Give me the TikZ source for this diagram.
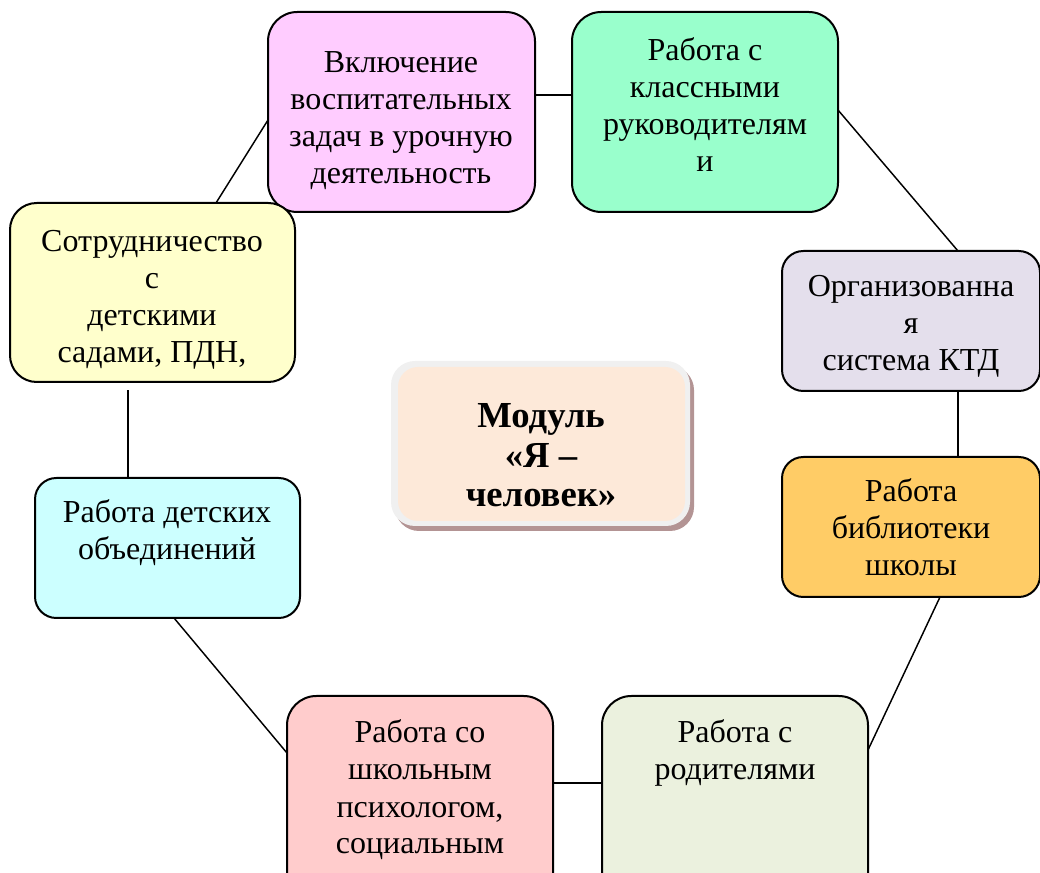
\documentclass[tikz,border=0pt]{standalone}
\usepackage{fontspec}
\setmainfont{Liberation Serif}
\usetikzlibrary{calc}
\definecolor{cPink}{HTML}{FFCCFF}
\definecolor{cGreen}{HTML}{99FFCC}
\definecolor{cLav}{HTML}{E4DFEC}
\definecolor{cOrange}{HTML}{FFCC66}
\definecolor{cGLight}{HTML}{EBF1DE}
\definecolor{cPLight}{HTML}{FFCCCC}
\definecolor{cCyan}{HTML}{CCFFFF}
\definecolor{cYellow}{HTML}{FFFFCC}
\definecolor{cPeach}{HTML}{FDE9D9}
\definecolor{cFrame}{HTML}{F0F0F0}
\definecolor{cShadow}{HTML}{B39494}
\newcommand\boxlines[1]{\begin{tabular}[t]{@{}c@{}}#1\end{tabular}}
\begin{document}
\begin{tikzpicture}[x=0.75pt,y=-0.75pt,
  box/.style={draw=black,line width=1.5pt,rounded corners=22pt,anchor=north west,inner sep=0pt,outer sep=0pt},
  sbox/.style={box,rounded corners=16pt},
  txt/.style={inner sep=0pt,anchor=base,font=\fontsize{24pt}{27.75pt}\selectfont},
  btxt/.style={inner sep=0pt,anchor=base,font=\fontsize{27.5pt}{29.5pt}\selectfont\bfseries},
  link/.style={draw=black,line width=1.1pt}]
\useasboundingbox (0,0) rectangle (1040,873);
\clip (0,0) rectangle (1040,873);
% boxes
\node[box,fill=cPink,minimum width=200.25pt,minimum height=150pt] (pink) at (268,12) {};
\node[box,fill=cGreen,minimum width=199.5pt,minimum height=150pt] (green) at (572,12) {};
\node[sbox,fill=cLav,minimum width=193.5pt,minimum height=105pt] (lav) at (782,251) {};
\node[sbox,fill=cOrange,minimum width=193.5pt,minimum height=105pt] (orange) at (782,457) {};
\node[box,fill=cGLight,minimum width=199.5pt,minimum height=157.5pt] (glight) at (602,696) {};
\node[box,fill=cPLight,minimum width=199.5pt,minimum height=157.5pt] (plight) at (287,696) {};
\node[sbox,fill=cCyan,minimum width=198.75pt,minimum height=105pt] (cyan) at (35,478) {};
\node[box,rounded corners=20pt,fill=cYellow,minimum width=213.75pt,minimum height=134.25pt] (ysad) at (10,203) {};
% centre
\node[anchor=north west,inner sep=0pt,outer sep=0pt,rounded corners=18pt,fill=cShadow,minimum width=224.25pt,minimum height=123.75pt] (cshadow) at (395,366) {};
\node[anchor=north west,inner sep=0pt,outer sep=0pt,rounded corners=18pt,fill=cFrame,minimum width=224.25pt,minimum height=123.75pt] (cframe) at (391,361) {};
\node[anchor=north west,inner sep=0pt,outer sep=0pt,rounded corners=15pt,fill=cPeach,minimum width=215.25pt,minimum height=115.5pt] (center) at (398,367) {};
% texts
\node[txt] (tpink) at (401,73) {\boxlines{Включение\\воспитательных\\задач в урочную\\деятельность}};
\node[txt] (tgreen) at (705,61) {\boxlines{Работа с\\классными\\руководителям\\и}};
\node[txt] (tlav) at (911,297) {\boxlines{Организованна\\я\\система КТД}};
\node[txt] (torange) at (911,502) {\boxlines{Работа\\библиотеки\\школы}};
\node[txt] (tysad) at (152,252) {\boxlines{Сотрудничество\\с\\детскими\\садами, ПДН,}};
\node[txt] (tcyan) at (167,523) {\boxlines{Работа детских\\объединений}};
\node[txt] (tplight) at (420,743) {\boxlines{Работа со\\школьным\\психологом,\\социальным}};
\node[txt] (tglight) at (735,743) {\boxlines{Работа с\\родителями}};
\node[btxt] (tcenter) at (541,428) {\boxlines{Модуль\\«Я –\\человек»}};
% connectors
\coordinate (yend) at (128,390);
\draw[link] (pink.west |- 0,120) -- (ysad.north -| 216,0);
\draw[link] (pink.east |- 0,95) -- (green.west |- 0,95);
\draw[link] (green.east |- 0,110) -- (lav.north -| 958,0);
\draw[link] (lav.south -| 958,0) -- (orange.north -| 958,0);
\draw[link] (orange.south -| 940,0) -- (glight.east |- 0,750);
\draw[link] (glight.west |- 0,783) -- (plight.east |- 0,783);
\draw[link] (plight.west |- 0,753) -- (cyan.south -| 174,0);
\draw[link] (cyan.north -| 128,0) -- (yend);
\end{tikzpicture}
\end{document}
